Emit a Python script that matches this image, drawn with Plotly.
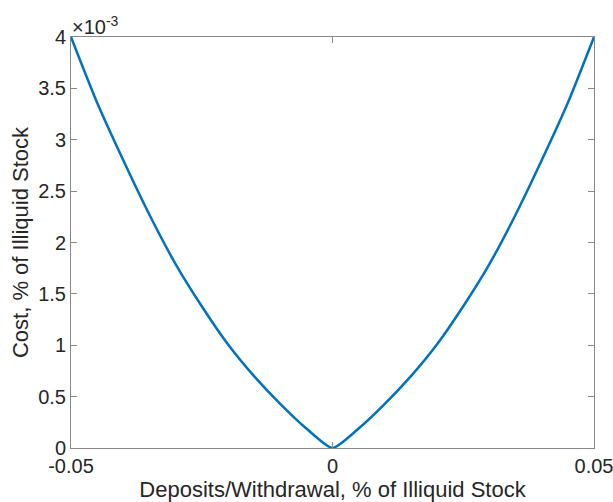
import plotly.graph_objects as go

# Deposits/withdrawal (fraction of illiquid stock)
flow = [-0.05, -0.045, -0.04, -0.035, -0.03, -0.025, -0.02, -0.015, -0.01, -0.005, 0.0,
        0.005, 0.01, 0.015, 0.02, 0.025, 0.03, 0.035, 0.04, 0.045, 0.05]
# Cost, in units of 1e-3
cost_e3 = [4.00, 3.36, 2.80, 2.27, 1.79, 1.38, 1.01, 0.70, 0.43, 0.19, 0.0,
           0.19, 0.43, 0.70, 1.01, 1.38, 1.79, 2.27, 2.80, 3.36, 4.00]

xticks = [-0.05, 0, 0.05]
xticklabels = ["-0.05", "0", "0.05"]
yticks = [0, 0.5, 1, 1.5, 2, 2.5, 3, 3.5, 4]
yticklabels = ["0", "0.5", "1", "1.5", "2", "2.5", "3", "3.5", "4"]

font = "Liberation Sans, Arial, Helvetica, sans-serif"
axcol = "#888888"
txtcol = "#262626"

fig = go.Figure()
fig.add_trace(go.Scatter(x=flow, y=cost_e3, mode="lines",
                         line=dict(color="#0072BD", width=2.5, shape="spline", smoothing=0.6),
                         showlegend=False, hoverinfo="skip"))

fig.update_layout(
    width=613, height=502,
    margin=dict(l=71, r=19, t=37, b=54),
    paper_bgcolor="white", plot_bgcolor="white",
    font=dict(family=font, size=20, color=txtcol),
    xaxis=dict(range=[-0.05, 0.05], tickvals=xticks, ticktext=xticklabels, automargin=False,
               ticklabeloverflow="allow",
               showgrid=False, zeroline=False, showline=True, linecolor=axcol, linewidth=1,
               mirror="allticks", ticks="inside", ticklen=6, tickcolor=axcol,
               tickfont=dict(size=20, color=txtcol),
               title=dict(text="Deposits/Withdrawal, % of Illiquid Stock",
                          font=dict(size=22, color=txtcol), standoff=2)),
    yaxis=dict(range=[0, 4], tickvals=yticks, ticktext=yticklabels, automargin=False,
               ticklabeloverflow="allow",
               showgrid=False, zeroline=False, showline=True, linecolor=axcol, linewidth=1,
               mirror="allticks", ticks="inside", ticklen=6, tickcolor=axcol,
               tickfont=dict(size=20, color=txtcol),
               title=dict(text="Cost, % of Illiquid Stock",
                          font=dict(size=22, color=txtcol), standoff=3)),
    annotations=[dict(text="×10<sup>-3</sup>", xref="paper", yref="paper",
                      x=0, y=1, xanchor="left", yanchor="bottom", showarrow=False,
                      font=dict(size=20, color=txtcol), xshift=-1, yshift=-3)],
)

fig.write_html("out.html", config={"displayModeBar": False},
               post_script="document.body.style.margin='0';document.body.style.overflow='hidden';")
